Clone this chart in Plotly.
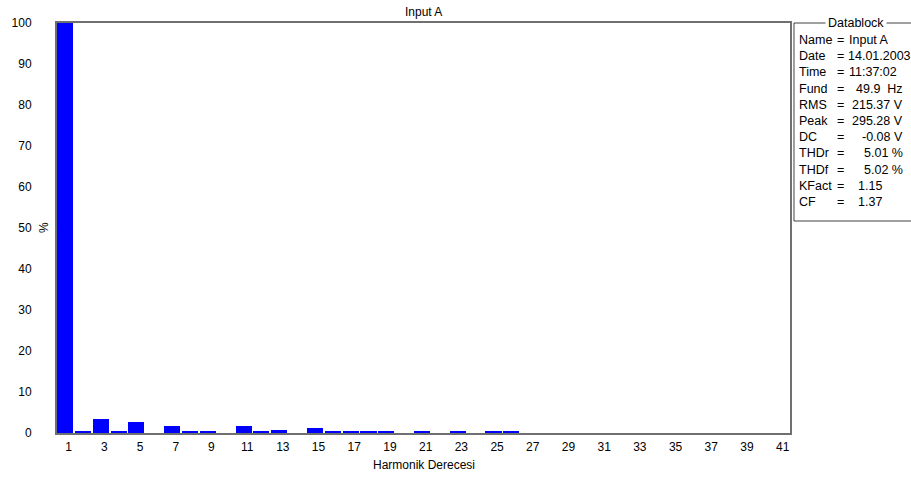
import plotly.graph_objects as go

# ---- data ----
harmonics = list(range(1, 42))
percent = [100, 0.3, 3.5, 0.3, 2.6, 0, 1.6, 0.3, 0.3, 0,
           1.6, 0.3, 0.75, 0, 1.1, 0.3, 0.3, 0.3, 0.3, 0,
           0.3, 0, 0.3, 0, 0.3, 0.3, 0, 0, 0, 0,
           0, 0, 0, 0, 0, 0, 0, 0, 0, 0, 0]
x_tick_labels = list(range(1, 42, 2))
y_tick_labels = list(range(0, 101, 10))
title_text = "Input A"
x_title = "Harmonik Derecesi"
y_title = "%"
datablock_title = "Datablock"
datablock_labels = ["Name", "Date", "Time", "Fund", "RMS", "Peak", "DC",
                    "THDr", "THDf", "KFact", "CF"]
datablock_values = ["Input A", "14.01.2003", "11:37:02", "49.9\u00a0\u00a0Hz",
                    "215.37 V", "295.28 V", "-0.08 V", "5.01 %", "5.02 %",
                    "1.15", "1.37"]
# alignment of each value: left-anchored at the value column, or right-anchored
value_anchor = ["left", "left", "left", "right", "right", "right", "right",
                "right", "right", "right", "right"]
value_x = [847, 846, 847, 905, 905, 905, 905, 905, 905, 884, 884]

# ---- layout geometry (pixels) ----
W, H = 911, 479
L, R, T, B = 55, 790, 23, 433
pw, ph = R - L, B - T


def px_x(x):
    return (x - L) / pw


def px_y(y):
    return (B - y) / ph


FONT = "Liberation Sans, Arial, sans-serif"
DB_FONT = dict(family=FONT, size=12.5, color="#000")

fig = go.Figure()
fig.add_trace(go.Bar(
    x=harmonics, y=percent,
    marker=dict(color="#0000FF", line=dict(width=0)),
    width=0.9, offset=-0.65,
))

annotations = [
    dict(text=title_text, xref="paper", yref="paper", x=0.5, y=px_y(12),
         xanchor="center", yanchor="middle", showarrow=False,
         font=dict(family=FONT, size=12, color="#000")),
    dict(text=x_title, xref="paper", yref="paper", x=0.5, y=px_y(465),
         xanchor="center", yanchor="middle", showarrow=False,
         font=dict(family=FONT, size=12, color="#000")),
    dict(text=y_title, xref="paper", yref="paper", x=px_x(42), y=0.5,
         xanchor="center", yanchor="middle", showarrow=False, textangle=-90,
         font=dict(family=FONT, size=12, color="#000")),
    dict(text=datablock_title, xref="paper", yref="paper", x=px_x(856), y=px_y(23),
         xanchor="center", yanchor="middle", showarrow=False, bgcolor="white",
         borderpad=2, font=DB_FONT),
]
line_y0, line_dy = 40, 16.2
for i, (lab, val) in enumerate(zip(datablock_labels, datablock_values)):
    yy = px_y(line_y0 + i * line_dy)
    annotations.append(dict(
        text=lab, xref="paper", yref="paper", x=px_x(797), y=yy,
        xanchor="left", yanchor="middle", showarrow=False, font=DB_FONT))
    annotations.append(dict(
        text="=", xref="paper", yref="paper", x=px_x(835), y=yy,
        xanchor="left", yanchor="middle", showarrow=False, font=DB_FONT))
    annotations.append(dict(
        text=val, xref="paper", yref="paper", x=px_x(value_x[i]), y=yy,
        xanchor=value_anchor[i], yanchor="middle", showarrow=False, font=DB_FONT))

shapes = [
    dict(type="rect", xref="paper", yref="paper",
         x0=px_x(794), x1=px_x(930), y0=px_y(221), y1=px_y(23),
         line=dict(color="#404040", width=1), layer="below"),
]

fig.update_layout(
    width=W, height=H,
    margin=dict(l=L, r=W - R, t=T, b=H - B, pad=0),
    paper_bgcolor="white", plot_bgcolor="white",
    showlegend=False,
    bargap=0,
    annotations=annotations,
    shapes=shapes,
    font=dict(family=FONT, size=12, color="#000"),
)
fig.update_xaxes(
    range=[0.35, 41.41], tickvals=x_tick_labels, ticktext=[str(v) for v in x_tick_labels],
    showgrid=False, zeroline=False, showline=True, mirror=True,
    linecolor="#707070", linewidth=2, ticks="", ticklabelstandoff=2,
    tickfont=dict(family=FONT, size=12, color="#000"), fixedrange=True,
)
fig.update_yaxes(
    range=[0, 100], tickvals=y_tick_labels, ticktext=[str(v) for v in y_tick_labels],
    showgrid=False, zeroline=False, showline=True, mirror=True,
    linecolor="#707070", linewidth=2, ticks="", ticklabelstandoff=21,
    tickfont=dict(family=FONT, size=12, color="#000"), fixedrange=True,
)

fig.write_html("out.html", config={"displayModeBar": False})
